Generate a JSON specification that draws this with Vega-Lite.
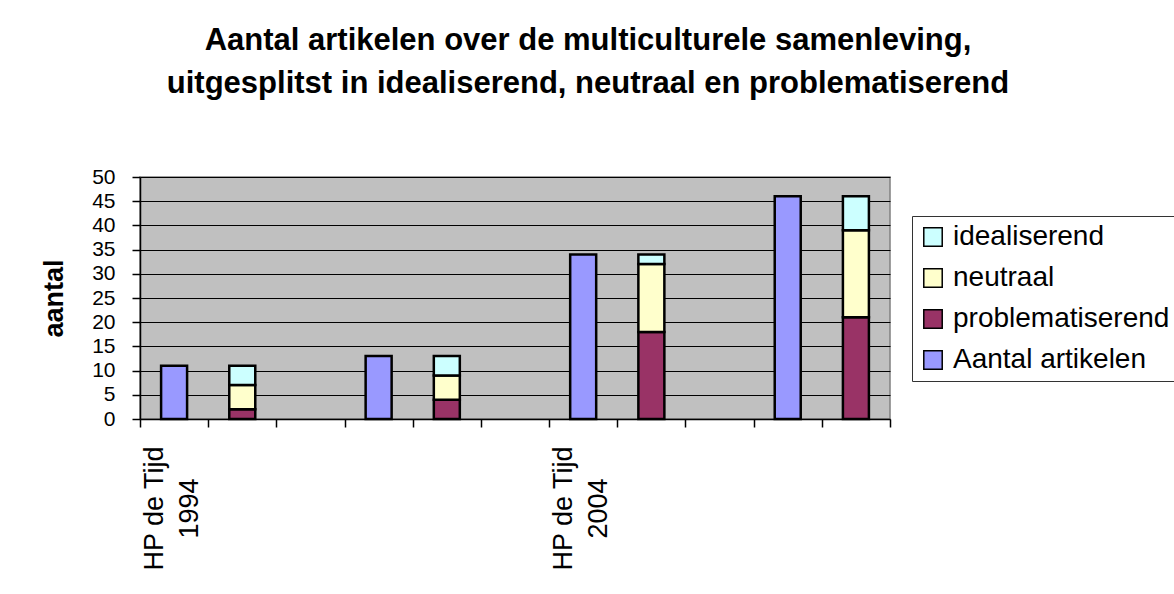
{
  "$schema": "https://vega.github.io/schema/vega-lite/v6.json",
  "autosize": {"type": "none"},
  "width": 750,
  "height": 242,
  "padding": {"left": 140, "top": 177, "right": 284, "bottom": 175},
  "background": "white",
  "title": {
    "text": ["Aantal artikelen over de multiculturele samenleving,", "uitgesplitst in idealiserend, neutraal en problematiserend"],
    "font": "Liberation Sans",
    "fontSize": 31,
    "fontWeight": "bold",
    "color": "black",
    "lineHeight": 43,
    "anchor": "middle",
    "dx": 73,
    "offset": 66
  },
  "config": {
    "view": {"fill": "#C0C0C0", "stroke": "#808080", "strokeWidth": 1.5},
    "font": "Liberation Sans"
  },
  "data": {
    "values": [
      {"cat": "c1", "series": "Aantal artikelen", "value": 11},
      {"cat": "c2", "series": "problematiserend", "value": 2},
      {"cat": "c2", "series": "neutraal", "value": 5},
      {"cat": "c2", "series": "idealiserend", "value": 4},
      {"cat": "c4", "series": "Aantal artikelen", "value": 13},
      {"cat": "c5", "series": "problematiserend", "value": 4},
      {"cat": "c5", "series": "neutraal", "value": 5},
      {"cat": "c5", "series": "idealiserend", "value": 4},
      {"cat": "c7", "series": "Aantal artikelen", "value": 34},
      {"cat": "c8", "series": "problematiserend", "value": 18},
      {"cat": "c8", "series": "neutraal", "value": 14},
      {"cat": "c8", "series": "idealiserend", "value": 2},
      {"cat": "c10", "series": "Aantal artikelen", "value": 46},
      {"cat": "c11", "series": "problematiserend", "value": 21},
      {"cat": "c11", "series": "neutraal", "value": 18},
      {"cat": "c11", "series": "idealiserend", "value": 7}
    ]
  },
  "mark": {"type": "bar", "size": 26, "stroke": "black", "strokeWidth": 2.5},
  "encoding": {
    "x": {
      "field": "cat",
      "type": "nominal",
      "scale": {"domain": ["c1","c2","c3","c4","c5","c6","c7","c8","c9","c10","c11"], "paddingInner": 0, "paddingOuter": 0},
      "axis": {
        "title": null,
        "domainColor": "black",
        "domainWidth": 1.5,
        "tickColor": "black",
        "tickWidth": 1.5,
        "tickSize": 8,
        "tickBand": "extent",
        "labelExpr": "datum.value == 'c1' ? ['HP de Tijd', '1994'] : datum.value == 'c7' ? ['HP de Tijd', '2004'] : ''",
        "labelAngle": -90,
        "labelAlign": "center",
        "labelBaseline": "middle",
        "labelPadding": 81,
        "labelOffset": -20,
        "labelOverlap": false,
        "labelFontSize": 27,
        "labelLineHeight": 35,
        "labelColor": "black",
        "labelFont": "Liberation Sans"
      }
    },
    "y": {
      "field": "value",
      "type": "quantitative",
      "stack": "zero",
      "scale": {"domain": [0, 50], "nice": false},
      "axis": {
        "title": "aantal",
        "titleFont": "Liberation Sans",
        "titleFontSize": 27,
        "titleFontWeight": "bold",
        "titleColor": "black",
        "titleAngle": -90,
        "titleX": -86,
        "titleY": 121,
        "titleAlign": "center",
        "titleBaseline": "middle",
        "values": [0,5,10,15,20,25,30,35,40,45,50],
        "labelOverlap": false,
        "grid": true,
        "gridColor": "black",
        "gridWidth": 1,
        "domainColor": "black",
        "domainWidth": 1.5,
        "tickColor": "black",
        "tickWidth": 1.5,
        "tickSize": 8,
        "labelPadding": 17,
        "labelFontSize": 21,
        "labelColor": "black",
        "labelFont": "Liberation Sans"
      }
    },
    "color": {
      "field": "series",
      "type": "nominal",
      "scale": {
        "domain": ["idealiserend", "neutraal", "problematiserend", "Aantal artikelen"],
        "range": ["#CCFFFF", "#FFFFCC", "#993366", "#9999FF"]
      },
      "legend": {
        "title": null,
        "orient": "none",
        "legendX": 772,
        "legendY": 39,
        "fillColor": "white",
        "strokeColor": "#333333",
        "padding": 7,
        "symbolType": "square",
        "symbolSize": 340,
        "symbolStrokeColor": "black",
        "symbolStrokeWidth": 1.5,
        "labelFontSize": 28,
        "labelFont": "Liberation Sans",
        "labelColor": "black",
        "labelOffset": 6,
        "rowPadding": 13,
        "labelLimit": 400
      }
    },
    "order": {"field": "series", "sort": "descending"}
  }
}
